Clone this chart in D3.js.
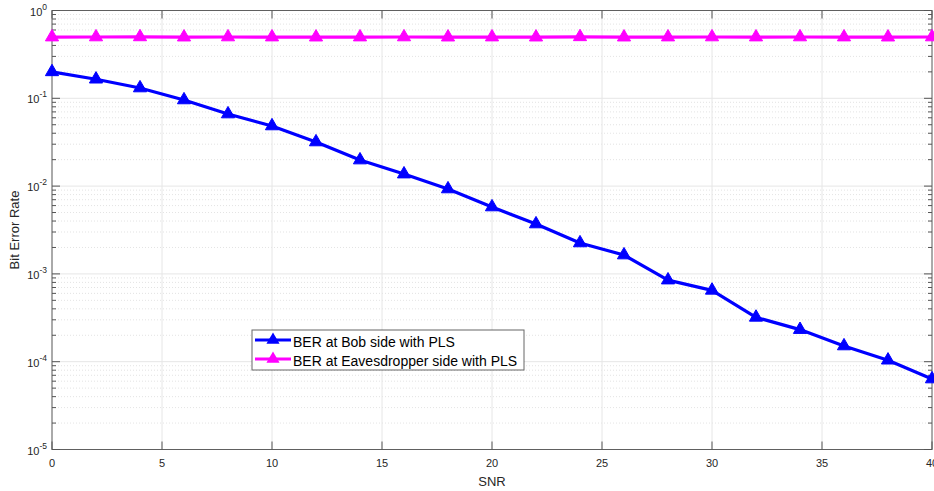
<!DOCTYPE html>
<html>
<head>
<meta charset="utf-8">
<script src="https://cdn.jsdelivr.net/npm/d3@7"></script>
<style>
body { margin: 0; background: #fff; }
svg { font-family: "Liberation Sans", Arial, sans-serif; }
</style>
</head>
<body>
<svg id="chart" width="934" height="491"></svg>
<script>
var snr = [0, 2, 4, 6, 8, 10, 12, 14, 16, 18, 20, 22, 24, 26, 28, 30, 32, 34, 36, 38, 40];
var berBob = [0.2, 0.165, 0.131, 0.0957, 0.0662, 0.0484, 0.0318, 0.0198, 0.0137, 0.00927, 0.00578,
	0.0037, 0.00225, 0.00164, 0.00085, 0.00065, 0.00032, 0.000232, 0.000151, 0.000104, 0.0000635];
var berEve = [0.498, 0.499, 0.5, 0.497, 0.499, 0.498, 0.497, 0.498, 0.499, 0.497, 0.498,
	0.497, 0.501, 0.497, 0.498, 0.499, 0.498, 0.499, 0.498, 0.497, 0.499];
var xTicks = [0, 5, 10, 15, 20, 25, 30, 35, 40];
var yExps = [0, -1, -2, -3, -4, -5];
var seriesNames = ["BER at Bob side with PLS", "BER at Eavesdropper side with PLS"];
var seriesColors = ["#0000ff", "#ff00ff"];

var svg = d3.select("#chart");
var margin = {top: 10.5, right: 2, bottom: 41.5, left: 52},
	width = svg.attr("width") - margin.left - margin.right,
	height = svg.attr("height") - margin.top - margin.bottom,
	g = svg.append("g").attr("transform", "translate(" + margin.left + "," + margin.top + ")");

var x = d3.scaleLinear().domain([0, 40]).range([0, width]);
var y = d3.scaleLog().domain([1e-5, 1]).range([height, 0]);

// minor grid (dotted) and minor ticks
var minor = [];
yExps.forEach(function(e) {
	if (e == 0) return;
	for (var k = 2; k <= 9; k++) minor.push(k * Math.pow(10, e));
});
g.selectAll(".minor-grid").data(minor).enter().append("line")
	.attr("x1", 0).attr("x2", width)
	.attr("y1", function(d) { return y(d); }).attr("y2", function(d) { return y(d); })
	.attr("stroke", "#dcdcdc").attr("stroke-width", 0.8).attr("stroke-dasharray", "1,2");

// major grid
g.selectAll(".xgrid").data(xTicks).enter().append("line")
	.attr("x1", function(d) { return x(d); }).attr("x2", function(d) { return x(d); })
	.attr("y1", 0).attr("y2", height)
	.attr("stroke", "#e6e6e6").attr("stroke-width", 1);
g.selectAll(".ygrid").data(yExps).enter().append("line")
	.attr("x1", 0).attr("x2", width)
	.attr("y1", function(d) { return y(Math.pow(10, d)); }).attr("y2", function(d) { return y(Math.pow(10, d)); })
	.attr("stroke", "#e6e6e6").attr("stroke-width", 1);

// box
g.append("rect").attr("width", width).attr("height", height)
	.attr("fill", "none").attr("stroke", "#262626").attr("stroke-width", 1).attr("stroke-opacity", 0.7);

// ticks inside on all four sides
var tickColor = "#555";
xTicks.forEach(function(t) {
	g.append("line").attr("x1", x(t)).attr("x2", x(t)).attr("y1", height).attr("y2", height - 8).attr("stroke", tickColor);
	g.append("line").attr("x1", x(t)).attr("x2", x(t)).attr("y1", 0).attr("y2", 8).attr("stroke", tickColor);
});
yExps.forEach(function(e) {
	var yy = y(Math.pow(10, e));
	g.append("line").attr("x1", 0).attr("x2", 8).attr("y1", yy).attr("y2", yy).attr("stroke", tickColor);
	g.append("line").attr("x1", width).attr("x2", width - 8).attr("y1", yy).attr("y2", yy).attr("stroke", tickColor);
});
minor.forEach(function(m) {
	var yy = y(m);
	g.append("line").attr("x1", 0).attr("x2", 4).attr("y1", yy).attr("y2", yy).attr("stroke", tickColor);
	g.append("line").attr("x1", width).attr("x2", width - 4).attr("y1", yy).attr("y2", yy).attr("stroke", tickColor);
});

// tick labels
g.selectAll(".xlab").data(xTicks).enter().append("text")
	.attr("x", function(d) { return x(d); }).attr("y", height + 17)
	.attr("text-anchor", "middle").attr("font-size", 11).attr("fill", "#262626")
	.text(function(d) { return d; });

yExps.forEach(function(e) {
	var t = g.append("text").attr("x", -5).attr("y", y(Math.pow(10, e)) + 5)
		.attr("text-anchor", "end").attr("font-size", 11).attr("fill", "#262626");
	t.append("tspan").text("10");
	t.append("tspan").attr("dy", -6).attr("font-size", 8.5).text(e);
});

// axis titles
svg.append("text").attr("x", margin.left + x(20)).attr("y", 486)
	.attr("text-anchor", "middle").attr("font-size", 13).attr("fill", "#262626").text("SNR");
svg.append("text").attr("transform", "translate(19," + (margin.top + height / 2) + ") rotate(-90)")
	.attr("text-anchor", "middle").attr("font-size", 13).attr("fill", "#262626").text("Bit Error Rate");

// series
var series = [
	{name: seriesNames[0], color: seriesColors[0], values: berBob},
	{name: seriesNames[1], color: seriesColors[1], values: berEve}
];
var line = d3.line()
	.x(function(d, i) { return x(snr[i]); })
	.y(function(d) { return y(d); });
var tri = d3.symbol().type(d3.symbolTriangle).size(75);

series.forEach(function(s) {
	g.append("path").attr("d", line(s.values))
		.attr("fill", "none").attr("stroke", s.color).attr("stroke-width", 3.2)
		.attr("stroke-linejoin", "round");
	g.selectAll(null).data(s.values).enter().append("path")
		.attr("d", tri)
		.attr("transform", function(d, i) { return "translate(" + x(snr[i]) + "," + y(d) + ")"; })
		.attr("fill", s.color).attr("stroke", s.color).attr("stroke-width", 1);
});

// legend
var lg = svg.append("g").attr("transform", "translate(252,330)");
lg.append("rect").attr("width", 272).attr("height", 40)
	.attr("fill", "#fff").attr("stroke", "#262626").attr("stroke-opacity", 0.7).attr("stroke-width", 1);
series.forEach(function(s, i) {
	var yy = 10 + i * 19;
	lg.append("line").attr("x1", 3).attr("x2", 39).attr("y1", yy).attr("y2", yy)
		.attr("stroke", s.color).attr("stroke-width", 3.2);
	lg.append("path").attr("d", tri).attr("transform", "translate(21," + yy + ")").attr("fill", s.color);
	lg.append("text").attr("x", 41).attr("y", yy + 7).attr("font-size", 14).attr("fill", "#000").text(s.name);
});
</script>
</body>
</html>
